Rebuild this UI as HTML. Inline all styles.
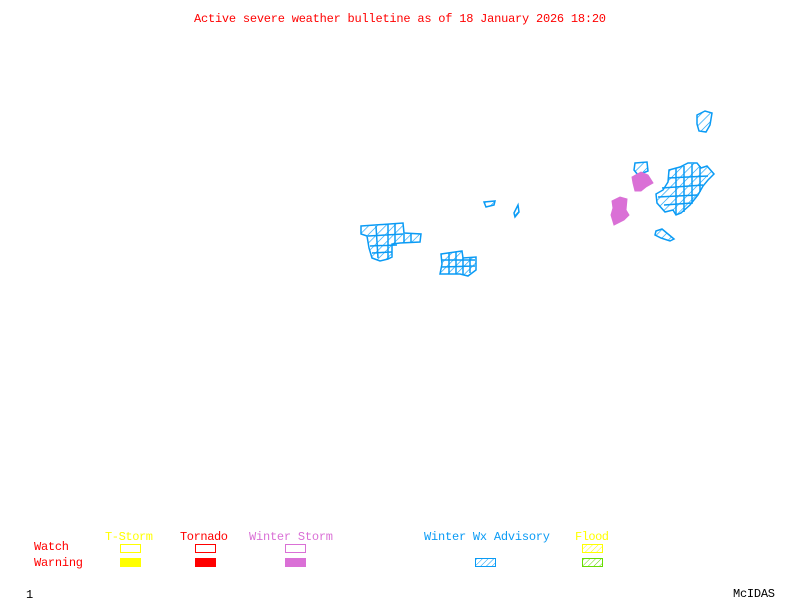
<!DOCTYPE html>
<html><head><style>
body{margin:0;background:#fff;width:800px;height:600px;overflow:hidden}
svg{display:block}
text{font-family:"Liberation Mono","DejaVu Sans Mono",monospace;font-size:12px}
</style></head><body>
<svg width="800" height="600" viewBox="0 0 800 600">
<defs>
<pattern id="hb" width="6" height="6" patternUnits="userSpaceOnUse" patternTransform="rotate(45)">
<line x1="0" y1="0" x2="0" y2="6" stroke="#0a9bf5" stroke-width="1.3"/></pattern>
<pattern id="hy" width="4" height="4" patternUnits="userSpaceOnUse" patternTransform="rotate(45)">
<line x1="0" y1="0" x2="0" y2="4" stroke="#ffff00" stroke-width="1"/></pattern>
<pattern id="hg" width="4" height="4" patternUnits="userSpaceOnUse" patternTransform="rotate(45)">
<line x1="0" y1="0" x2="0" y2="4" stroke="#66dd00" stroke-width="1"/></pattern>
<pattern id="hl" width="4" height="4" patternUnits="userSpaceOnUse" patternTransform="rotate(45)">
<line x1="0" y1="0" x2="0" y2="4" stroke="#0a9bf5" stroke-width="1"/></pattern>
</defs>
<text x="400" y="22" fill="#ff0000" text-anchor="middle" textLength="412">Active severe weather bulletine as of 18 January 2026 18:20</text>

<g fill="url(#hb)" stroke="#0a9bf5" stroke-width="1.5">
<path d="M361,226 L403,223 L404,233 L421,234 L420,242 L400,243 L392,244 L392,257 L388,259 L380,261 L372,258 L369,248 L367,236 L361,234 Z"/>
<path d="M368,236 L403,234 M370,246 L397,245 M372,253 L392,252 M376,226 L378,258 M388,224 L388,259 M395,224 L395,243 M404,234 L404,243 M411,234 L411,242"/>
<path d="M441,254 L462,251 L463,258 L476,257 L476,270 L468,276 L460,274 L440,274 L442,264 Z"/>
<path d="M441,260 L475,260 M441,267 L475,266 M449,253 L449,274 M456,252 L456,274 M463,258 L463,275 M470,258 L470,273"/>
<path d="M484,202 L495,201 L494,205 L486,207 Z"/>
<path d="M518,205 L519,212 L515,217 L514,213 Z"/>
<path d="M697,115 L705,111 L712,113 L710,125 L706,132 L699,131 L697,124 Z"/>
<path d="M635,163 L647,162 L648,171 L638,175 L634,170 Z"/>
<path d="M669,170 L680,167 L688,163 L697,163 L701,168 L707,166 L714,174 L708,180 L703,186 L698,195 L690,205 L681,213 L676,215 L673,210 L665,212 L657,203 L656,194 L663,190 L668,182 Z"/>
<path d="M668,178 L708,176 M662,188 L703,185 M658,197 L697,195 M664,205 L692,203 M676,168 L676,214 M684,166 L684,212 M692,164 L692,204 M700,166 L700,192"/>
<path d="M656,231 L662,229 L668,234 L674,239 L670,241 L661,238 L655,235 Z"/>
</g>
<g fill="#da70d6" stroke="#da70d6" stroke-width="1">
<path d="M632,177 L641,172 L648,175 L653,183 L646,187 L641,191 L635,191 L633,183 Z"/>
<path d="M612,201 L620,197 L627,199 L626,210 L629,215 L624,220 L614,225 L611,215 L613,208 Z"/>
</g>

<text x="105" y="540" fill="#ffff00" textLength="48">T-Storm</text>
<text x="180" y="540" fill="#ff0000" textLength="48">Tornado</text>
<text x="249" y="540" fill="#da70d6" textLength="84">Winter Storm</text>
<text x="424" y="540" fill="#0a9bf5" textLength="126">Winter Wx Advisory</text>
<text x="575" y="540" fill="#ffff00" textLength="34">Flood</text>
<text x="34" y="550" fill="#ff0000" textLength="35">Watch</text>
<text x="34" y="566" fill="#ff0000" textLength="49">Warning</text>

<rect x="120.5" y="544.5" width="20" height="8" fill="none" stroke="#ffff00"/>
<rect x="195.5" y="544.5" width="20" height="8" fill="none" stroke="#ff0000"/>
<rect x="285.5" y="544.5" width="20" height="8" fill="none" stroke="#da70d6"/>
<rect x="582.5" y="544.5" width="20" height="8" fill="url(#hy)" stroke="#ffff00"/>
<rect x="120" y="558" width="21" height="9" fill="#ffff00"/>
<rect x="195" y="558" width="21" height="9" fill="#ff0000"/>
<rect x="285" y="558" width="21" height="9" fill="#da70d6"/>
<rect x="475.5" y="558.5" width="20" height="8" fill="url(#hl)" stroke="#0a9bf5"/>
<rect x="582.5" y="558.5" width="20" height="8" fill="url(#hg)" stroke="#66dd00"/>

<text x="26" y="598" fill="#000">1</text>
<text x="733" y="597" fill="#000" textLength="42">McIDAS</text>
</svg>
</body></html>
